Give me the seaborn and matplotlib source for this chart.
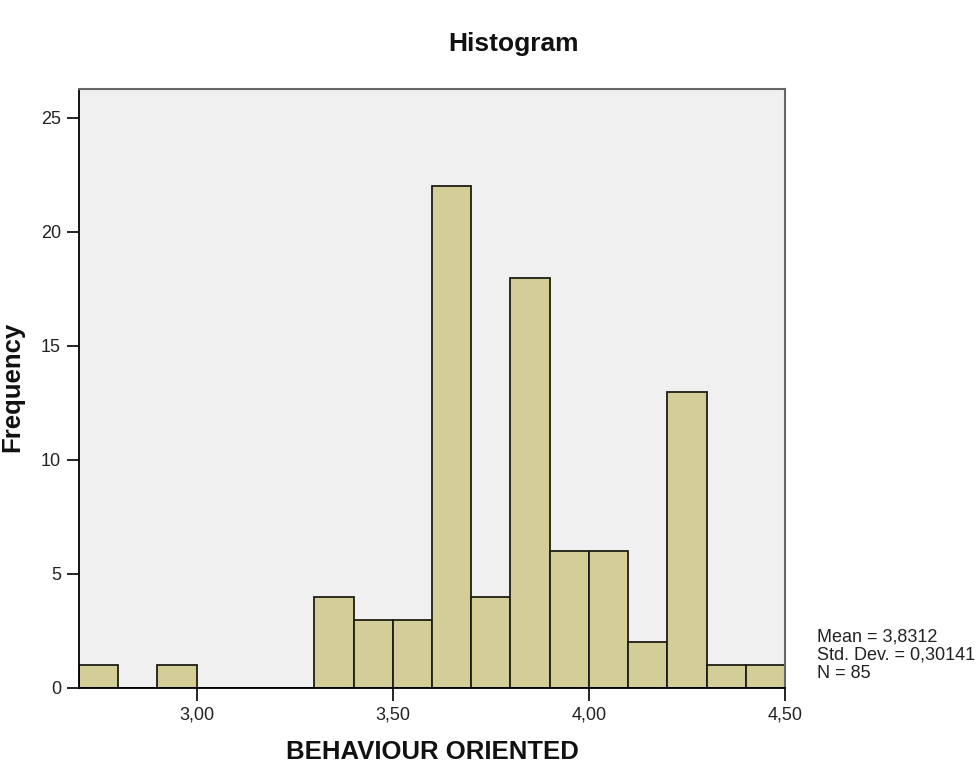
import numpy as np
import pandas as pd
import matplotlib
matplotlib.use("Agg")
import matplotlib.pyplot as plt
import seaborn as sns
from matplotlib.ticker import FixedLocator, FuncFormatter

# ---- data ----
bin_edges = [2.70, 2.80, 2.90, 3.00, 3.10, 3.20, 3.30, 3.40, 3.50, 3.60,
             3.70, 3.80, 3.90, 4.00, 4.10, 4.20, 4.30, 4.40, 4.50]
counts = [1, 0, 1, 0, 0, 0, 4, 3, 3, 22, 4, 18, 6, 6, 2, 13, 1, 1]
x_ticks = [3.00, 3.50, 4.00, 4.50]
y_ticks = [0, 5, 10, 15, 20, 25]
stats_lines = ["Mean = 3,8312", "Std. Dev. = 0,30141", "N = 85"]
title = "Histogram"
x_label = "BEHAVIOUR ORIENTED"
y_label = "Frequency"

centers = [(a + b) / 2 for a, b in zip(bin_edges[:-1], bin_edges[1:])]
df = pd.DataFrame({"value": centers, "count": counts})

sns.set_style("white")
plt.rcParams["font.family"] = ["Liberation Sans", "DejaVu Sans"]

fig = plt.figure(figsize=(9.79, 7.67), dpi=100)
ax = fig.add_axes([79 / 979, 1 - 688 / 767, (785 - 79) / 979, (688 - 89) / 767])
ax.set_facecolor("#f0f0f0")

sns.histplot(data=df, x="value", weights="count", bins=bin_edges, ax=ax,
             color="#d3ce97", alpha=1.0, edgecolor="#1e1e14", linewidth=1.3)

ax.set_xlim(2.70, 4.50)
ax.set_ylim(0, 26.27)
ax.xaxis.set_major_locator(FixedLocator(x_ticks))
ax.yaxis.set_major_locator(FixedLocator(y_ticks))
ax.xaxis.set_major_formatter(FuncFormatter(lambda v, p: f"{v:.2f}".replace(".", ",")))
ax.yaxis.set_major_formatter(FuncFormatter(lambda v, p: f"{int(round(v))}"))
ax.tick_params(axis="both", direction="out", length=9, width=1.2, color="black",
               labelsize=13, labelcolor="#222222", pad=4,
               bottom=True, left=True)

for side in ["left", "bottom"]:
    ax.spines[side].set_color("black")
    ax.spines[side].set_linewidth(1.3)
for side in ["top", "right"]:
    ax.spines[side].set_color("#666666")
    ax.spines[side].set_linewidth(1.5)

ax.set_xlabel("")
ax.set_ylabel("")
fig.text((79 + 785) / 2 / 979, 1 - 752 / 767, x_label, ha="center", va="center",
         fontsize=18.5, fontweight="bold", color="#111111")
fig.text(12 / 979, 1 - 387 / 767, y_label, ha="center", va="center", rotation=90,
         fontsize=18.5, fontweight="bold", color="#111111")
fig.text(513 / 979, 1 - 44 / 767, title, ha="center", va="center",
         fontsize=19, fontweight="bold", color="#111111")

for i, line in enumerate(stats_lines):
    fig.text(817 / 979, 1 - (637 + 18 * i) / 767, line, ha="left", va="center",
             fontsize=13, color="#222222")

fig.savefig("out.png", dpi=100, facecolor="white")
